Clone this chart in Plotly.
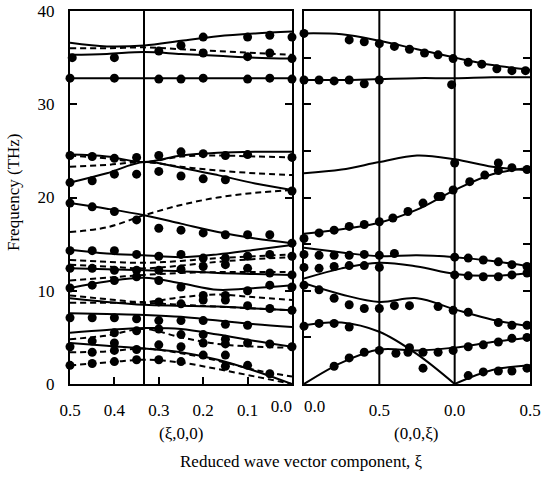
import plotly.graph_objects as go

# ---------------- data ----------------
LEFT_XI = [0.5, 0.417, 0.333, 0.25, 0.167, 0.083, 0.0]
LEFT_SOLID = [
    [36.6, 36.2, 36.3, 36.8, 37.3, 37.6, 37.8],
    [35.3, 35.4, 35.6, 35.4, 35.2, 35.0, 34.9],
    [32.8, 32.8, 32.8, 32.8, 32.8, 32.8, 32.8],
    [24.6, 24.4, 23.8, 24.5, 24.8, 24.9, 24.9],
    [21.6, 22.6, 23.8, 23.2, 22.4, 21.5, 20.8],
    [19.4, 18.8, 18.1, 17.2, 16.3, 15.6, 15.1],
    [14.4, 14.0, 13.8, 13.6, 13.9, 14.4, 14.9],
    [12.4, 12.3, 12.2, 12.1, 11.9, 11.8, 11.7],
    [10.3, 11.0, 11.4, 10.8, 10.1, 10.3, 10.6],
    [9.2, 8.8, 8.5, 8.4, 8.3, 8.1, 7.9],
    [7.6, 7.5, 7.4, 7.2, 6.8, 6.4, 6.1],
    [5.5, 5.8, 6.0, 5.9, 5.3, 4.6, 4.0],
    [4.4, 4.1, 3.8, 3.4, 2.6, 1.4, 0.0],
]
LEFT_DASHED = [
    [36.0, 36.0, 36.1, 35.9, 35.7, 35.5, 35.3],
    [23.3, 23.5, 23.8, 23.3, 22.9, 22.6, 22.4],
    [24.5, 24.2, 23.8, 24.4, 24.5, 24.4, 24.3],
    [16.3, 16.8, 18.1, 19.2, 20.0, 20.5, 20.8],
    [13.3, 13.1, 13.0, 13.2, 13.5, 13.7, 13.9],
    [12.8, 12.6, 12.4, 12.7, 13.1, 13.4, 13.6],
    [11.1, 11.4, 11.7, 11.9, 12.0, 12.0, 12.0],
    [9.5, 9.1, 8.8, 9.3, 9.6, 9.3, 9.0],
    [8.7, 8.7, 8.7, 8.5, 8.3, 8.1, 7.9],
    [4.8, 5.2, 5.9, 5.0, 4.3, 4.0, 3.9],
    [3.4, 3.5, 3.8, 3.3, 2.5, 1.5, 0.8],
    [2.0, 2.3, 2.6, 2.3, 1.6, 0.8, 0.0],
]
LEFT_DOT_XI = [0.495, 0.40, 0.30, 0.25, 0.20, 0.20, 0.10, 0.10, 0.05, 0.05, 0.0, 0.0,
               0.5, 0.4, 0.3, 0.25, 0.2, 0.1, 0.05, 0.0,
               0.5, 0.45, 0.4, 0.35, 0.3, 0.25, 0.2, 0.15, 0.1, 0.0,
               0.5, 0.45, 0.4, 0.35, 0.3, 0.25, 0.2, 0.15, 0.0,
               0.5, 0.45, 0.4, 0.35, 0.3, 0.25, 0.2, 0.15, 0.1, 0.05, 0.0,
               0.5, 0.45, 0.4, 0.35, 0.3, 0.25, 0.2, 0.15, 0.1, 0.05, 0.0,
               0.5, 0.45, 0.4, 0.35, 0.3, 0.25, 0.2, 0.15, 0.1, 0.05, 0.0,
               0.5, 0.45, 0.4, 0.35, 0.3, 0.25, 0.2, 0.15, 0.1, 0.05, 0.0,
               0.3, 0.25, 0.2, 0.15, 0.1, 0.05, 0.0,
               0.5, 0.45, 0.4, 0.35, 0.3, 0.25, 0.2, 0.15, 0.1,
               0.4, 0.35, 0.3, 0.25, 0.2, 0.15, 0.1, 0.05, 0.0,
               0.5, 0.45, 0.4, 0.35, 0.3, 0.25, 0.2, 0.15,
               0.45, 0.4, 0.3, 0.2, 0.15, 0.1, 0.05,
               0.5, 0.45, 0.4, 0.35, 0.25, 0.15]
LEFT_DOT_F = [35.0, 35.0, 35.7, 36.3, 37.2, 35.5, 37.2, 35.1, 37.4, 35.5, 37.2, 34.9,
              32.8, 32.8, 32.7, 32.7, 32.8, 32.7, 32.8, 32.7,
              24.5, 24.4, 24.2, 24.3, 24.5, 24.9, 24.7, 24.5, 24.6, 24.3,
              21.6, 21.8, 22.5, 22.5, 22.8, 22.3, 22.0, 21.9, 20.7,
              19.4, 19.0, 18.5, 17.6, 16.7, 16.5, 16.2, 16.0, 16.0, 16.0, 15.1,
              14.3, 14.3, 14.3, 13.9, 13.7, 13.9, 13.5, 13.5, 13.7, 13.9, 13.7,
              12.4, 12.4, 12.2, 12.2, 12.2, 12.3, 12.6, 12.8, 12.4, 11.9, 11.7,
              10.3, 10.6, 11.1, 11.5, 11.1, 10.4, 9.5, 9.5, 10.0, 10.6, 10.4,
              8.8, 8.6, 9.0, 9.0, 8.4, 8.1, 7.9,
              7.1, 7.1, 7.1, 7.0, 6.8, 6.8, 6.8, 6.4, 6.3,
              5.5, 5.7, 5.9, 5.3, 5.3, 4.8, 4.4, 4.3, 4.0,
              4.0, 4.6, 4.4, 3.7, 4.2, 4.0, 4.4, 4.3,
              3.4, 3.6, 2.6, 3.1, 3.1, 2.0, 1.1,
              2.0, 2.2, 2.4, 2.6, 2.4, 1.9]

RIGHT_P = [0.0, 0.25, 0.5, 0.75, 1.0, 1.25, 1.5]
RIGHT_SOLID = [
    [37.6, 37.5, 36.8, 35.9, 35.0, 34.2, 33.7],
    [32.6, 32.6, 32.7, 32.8, 32.8, 32.9, 32.9],
    [22.6, 23.0, 23.8, 24.5, 24.1, 23.3, 22.9],
    [16.1, 16.6, 17.3, 18.7, 20.8, 22.5, 23.2],
    [14.6, 14.1, 13.7, 13.8, 13.6, 13.2, 12.6],
    [11.3, 12.4, 13.0, 12.6, 11.8, 11.6, 11.9],
    [10.8, 9.6, 8.8, 9.2, 8.0, 6.9, 6.2],
    [0.0, 2.3, 3.7, 3.6, 3.9, 4.5, 5.0],
]
RIGHT_P_A = [0.0, 0.25, 0.5, 0.75, 1.0]
RIGHT_SOLID_A = [6.3, 6.6, 5.6, 3.2, 0.0]
RIGHT_P_B = [1.0, 1.25, 1.5]
RIGHT_SOLID_B = [0.0, 1.5, 2.0]

RIGHT_DOT_P = [0.0, 0.30, 0.40, 0.5, 0.60, 0.70, 0.80, 0.89, 0.99, 1.09, 1.18, 1.28, 1.38, 1.47,
               0.0, 0.1, 0.2, 0.3, 0.4, 0.5, 0.98,
               1.0, 1.29, 1.38, 1.48,
               0.91, 1.1, 1.2, 1.29,
               0.0, 0.1, 0.2, 0.3, 0.4, 0.5, 0.59, 0.69, 0.79, 0.89, 0.99,
               0.0, 0.1, 0.2, 0.3, 0.4, 0.5, 0.6, 1.0, 1.09, 1.19, 1.29, 1.38, 1.48,
               0.0, 0.1, 0.2, 0.3, 0.4, 0.5, 1.0, 1.09, 1.19, 1.29, 1.38, 1.48,
               0.0, 0.1, 0.2, 0.3, 0.4, 0.5, 0.6, 0.7, 0.89, 0.99, 1.09, 1.29, 1.38, 1.48,
               0.0, 0.1, 0.2, 0.3, 0.7, 0.79,
               0.2, 0.3, 0.4, 0.5, 0.61, 0.69, 0.79, 0.89, 0.99, 1.09, 1.19, 1.29, 1.38, 1.48,
               1.09, 1.19, 1.29, 1.38, 1.48]
RIGHT_DOT_F = [37.6, 36.9, 36.7, 36.5, 36.2, 35.9, 35.5, 35.3, 34.9, 34.5, 34.3, 33.8, 33.6, 33.6,
               32.6, 32.6, 32.5, 32.6, 32.2, 32.6, 32.1,
               23.7, 23.7, 23.2, 23.0,
               20.1, 21.7, 22.4, 22.9,
               15.6, 16.2, 16.5, 16.9, 17.1, 17.4, 17.8, 18.5, 19.4, 20.1, 20.8,
               13.9, 13.8, 13.8, 13.8, 13.9, 13.8, 14.0, 13.6, 13.5, 13.3, 13.1, 12.8, 12.6,
               12.5, 12.4, 12.6, 12.7, 12.7, 12.5, 11.7, 11.6, 11.5, 11.5, 11.7, 11.9,
               10.6, 10.1, 9.2, 8.5, 8.1, 8.1, 8.4, 8.4, 8.3, 7.9, 7.7, 6.6, 6.3, 6.3,
               6.2, 6.5, 6.5, 6.1, 3.9, 1.7,
               1.9, 2.8, 3.4, 3.6, 3.3, 3.4, 3.4, 3.4, 3.6, 4.0, 4.2, 4.5, 4.9, 5.0,
               0.9, 1.3, 1.4, 1.4, 1.7]

LEFT_TICKS = [0.5, 0.4, 0.3, 0.2, 0.1, 0.0]
LEFT_TICK_TEXT = ["0.5", "0.4", "0.3", "0.2", "0.1", ""]
LEFT_END_TICK = [0.0]
LEFT_END_TEXT = ["0.0"]
RIGHT_TICKS = [0.0, 0.5, 1.0, 1.5]
RIGHT_TICK_TEXT = ["", "0.5", "0.0", "0.5"]
RIGHT_START_TICK = [0.0]
RIGHT_START_TEXT = ["0.0"]

# ---------------- figure ----------------
FONT = "Liberation Serif"
FS = 17
fig = go.Figure()

line_solid = dict(color="black", width=2, shape="spline", smoothing=1.0)
line_dash = dict(color="black", width=2, shape="spline", smoothing=1.0, dash="6px,4px")

for ys in LEFT_DASHED:
    fig.add_trace(go.Scatter(x=LEFT_XI, y=ys, mode="lines", line=line_dash,
                             xaxis="x", yaxis="y", showlegend=False, hoverinfo="skip"))
for ys in LEFT_SOLID:
    fig.add_trace(go.Scatter(x=LEFT_XI, y=ys, mode="lines", line=line_solid,
                             xaxis="x", yaxis="y", showlegend=False, hoverinfo="skip"))
fig.add_trace(go.Scatter(x=LEFT_DOT_XI, y=LEFT_DOT_F, mode="markers",
                         marker=dict(color="black", size=9), xaxis="x", yaxis="y",
                         showlegend=False, cliponaxis=False))

for ys in RIGHT_SOLID:
    fig.add_trace(go.Scatter(x=RIGHT_P, y=ys, mode="lines", line=line_solid,
                             xaxis="x2", yaxis="y2", showlegend=False, hoverinfo="skip"))
fig.add_trace(go.Scatter(x=RIGHT_P_A, y=RIGHT_SOLID_A, mode="lines", line=line_solid,
                         xaxis="x2", yaxis="y2", showlegend=False, hoverinfo="skip"))
fig.add_trace(go.Scatter(x=RIGHT_P_B, y=RIGHT_SOLID_B, mode="lines", line=line_solid,
                         xaxis="x2", yaxis="y2", showlegend=False, hoverinfo="skip"))
fig.add_trace(go.Scatter(x=RIGHT_DOT_P, y=RIGHT_DOT_F, mode="markers",
                         marker=dict(color="black", size=9), xaxis="x2", yaxis="y2",
                         showlegend=False, cliponaxis=False))

# invisible anchor traces so the overlay label axes are drawn
fig.add_trace(go.Scatter(x=LEFT_END_TICK, y=[0], mode="markers", marker=dict(opacity=0),
                         xaxis="x3", yaxis="y", showlegend=False, hoverinfo="skip"))
fig.add_trace(go.Scatter(x=RIGHT_START_TICK, y=[0], mode="markers", marker=dict(opacity=0),
                         xaxis="x4", yaxis="y2", showlegend=False, hoverinfo="skip"))

W, H = 542, 486
xl0, xl1 = 70 / W, 292 / W
xr0, xr1 = 304 / W, 530 / W
y0, y1 = 1 - 384 / H, 1 - 11 / H

tickfont = dict(family=FONT, size=FS, color="black")
common_axis = dict(showgrid=False, zeroline=False, showline=True, linecolor="black",
                   linewidth=2, ticks="inside", tickcolor="black", tickwidth=2, ticklen=7,
                   automargin=False)
label_axis = dict(showgrid=False, zeroline=False, showline=False, ticks="",
                  automargin=False, tickfont=tickfont, ticklabelstandoff=10)

fig.update_layout(
    width=W, height=H,
    margin=dict(l=0, r=0, t=0, b=0),
    paper_bgcolor="white", plot_bgcolor="white",
    font=dict(family=FONT, size=FS, color="black"),
    xaxis=dict(domain=[xl0, xl1], range=[0.5, 0.0], tickvals=LEFT_TICKS,
               ticktext=LEFT_TICK_TEXT, tickfont=tickfont, mirror=True, anchor="y",
               ticklabelstandoff=10, **common_axis),
    xaxis3=dict(domain=[xl0, xl1], range=[0.5, 0.0], tickvals=LEFT_END_TICK,
                ticktext=LEFT_END_TEXT, overlaying="x", anchor="y", side="bottom",
                ticklabelposition="outside left", **label_axis),
    yaxis=dict(domain=[y0, y1], range=[0, 40], dtick=10, tickfont=tickfont,
               mirror="ticks", anchor="x", ticklabelstandoff=10, **common_axis),
    xaxis2=dict(domain=[xr0, xr1], range=[0.0, 1.5], tickvals=RIGHT_TICKS,
                ticktext=RIGHT_TICK_TEXT, tickfont=tickfont, mirror=True, anchor="y2",
                showgrid=False, zeroline=False, showline=True, linecolor="black",
                linewidth=2, ticks="", automargin=False, ticklabelstandoff=10),
    xaxis4=dict(domain=[xr0, xr1], range=[0.0, 1.5], tickvals=RIGHT_START_TICK,
                ticktext=RIGHT_START_TEXT, overlaying="x2", anchor="y2", side="bottom",
                ticklabelposition="outside right", **label_axis),
    yaxis2=dict(domain=[y0, y1], range=[0, 40], dtick=5, showticklabels=False,
                mirror="ticks", anchor="x2", **common_axis),
)

# zone boundary / segment separators
fig.add_shape(type="line", xref="x", yref="y", x0=1/3, x1=1/3, y0=0, y1=40,
              line=dict(color="black", width=2))
for xv in [0.5, 1.0]:
    fig.add_shape(type="line", xref="x2", yref="y2", x0=xv, x1=xv, y0=0, y1=40,
                  line=dict(color="black", width=2))

ann_font = dict(family=FONT, size=FS, color="black")
fig.add_annotation(text="(ξ,0,0)", x=181 / W, y=1 - 433 / H, xref="paper", yref="paper",
                   xanchor="center", yanchor="middle", showarrow=False, font=ann_font)
fig.add_annotation(text="(0,0,ξ)", x=416 / W, y=1 - 433 / H, xref="paper", yref="paper",
                   xanchor="center", yanchor="middle", showarrow=False, font=ann_font)
fig.add_annotation(text="Reduced wave vector component, ξ", x=301 / W, y=1 - 461 / H,
                   xref="paper", yref="paper", xanchor="center", yanchor="middle",
                   showarrow=False, font=ann_font)
fig.add_annotation(text="Frequency (THz)", x=13 / W, y=1 - 192 / H, xref="paper",
                   yref="paper", xanchor="center", yanchor="middle", textangle=-90,
                   showarrow=False, font=ann_font)

fig.write_html("out.html")
